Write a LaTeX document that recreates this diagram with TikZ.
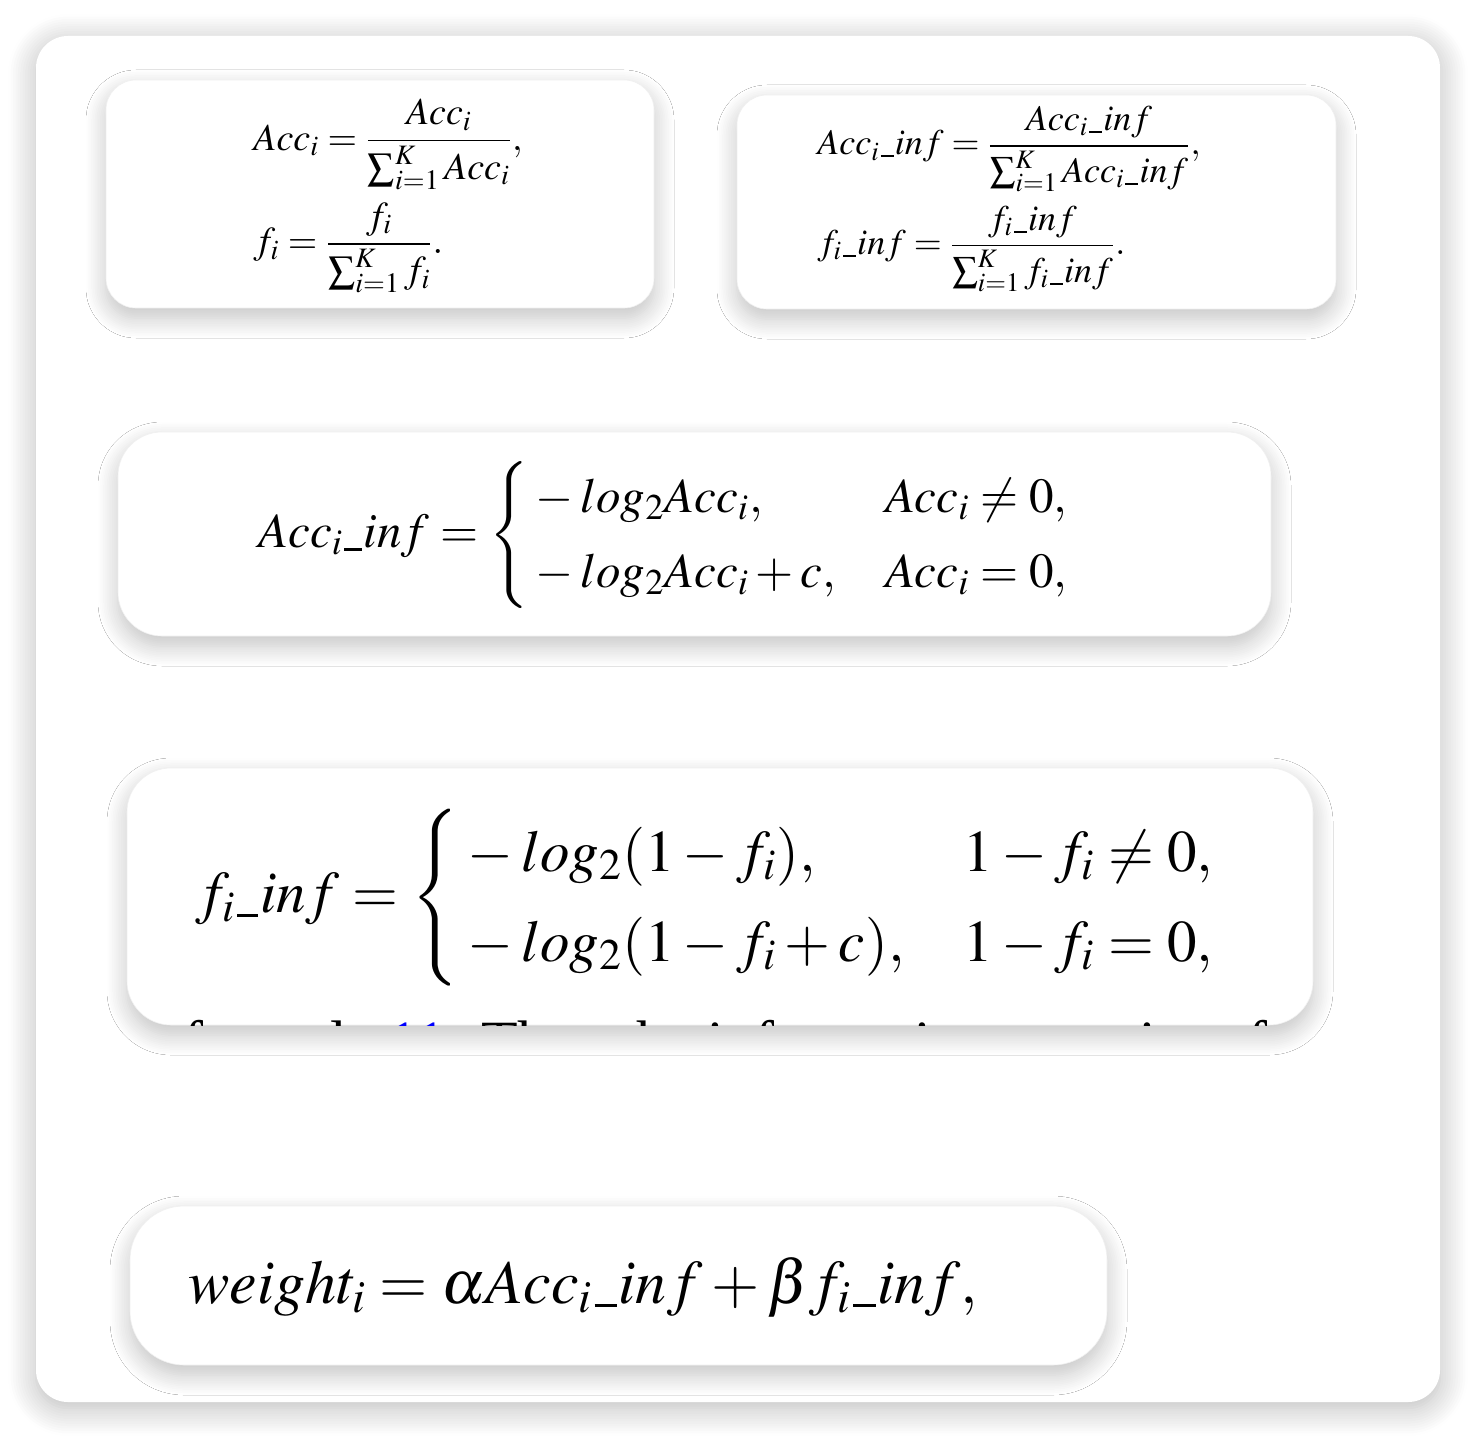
\documentclass[tikz,border=0pt]{standalone}
\usepackage{amsmath}
\usepackage{mathptmx}
\usepackage{fontspec}
\setmainfont{Liberation Serif}
\usetikzlibrary{shadows.blur}
\newcommand{\us}{\mathord{\kern0.03em\rule[-0.07em]{0.36em}{0.055em}\kern0.03em}}

\begin{document}
\begin{tikzpicture}[x=0.5pt,y=-0.5pt,
   frame/.style={fill=white, rounded corners=16pt,
      blur shadow={shadow xshift=0pt, shadow yshift=-3pt, shadow blur radius=14pt,
         shadow blur steps=12, shadow opacity=28}},
   card/.style={fill=white, draw=black!6, line width=0.3pt,
      blur shadow={shadow xshift=0pt, shadow yshift=-5pt, shadow blur radius=10pt,
         shadow blur steps=12, shadow opacity=24}},
   eq/.style={inner sep=0pt, anchor=west}]
   \useasboundingbox (0,0) rectangle (1476,1438);
   \path[frame] (36,36) rectangle (1440,1402);
   \path[card, rounded corners=15pt] (106,80) rectangle (654,308);
   \path[card, rounded corners=15pt] (737,95) rectangle (1336,309);
   \path[card, rounded corners=22pt] (118,432) rectangle (1271,636);
   \path[card, rounded corners=22pt] (127,768) rectangle (1313,1025);
   \path[card, rounded corners=27pt] (130,1206) rectangle (1107,1365);

   \node[eq] (norm) at (253,196) {\fontsize{19}{23}\selectfont
      $\begin{aligned}
         &Acc_i = \frac{Acc_i}{\sum_{i=1}^{K} Acc_i},\\[2.5pt]
         &f_i = \frac{f_i}{\sum_{i=1}^{K} f_i}.
      \end{aligned}$};
   \node[eq] (norminf) at (817,199) {\fontsize{18}{22}\selectfont
      $\begin{aligned}
         &Acc_i\us inf = \frac{Acc_i\us inf}{\sum_{i=1}^{K} Acc_i\us inf},\\[3pt]
         &f_i\us inf = \frac{f_i\us inf}{\sum_{i=1}^{K} f_i\us inf}.
      \end{aligned}$};
   \node[eq] (accinf) at (258,535) {\fontsize{24.5}{31.2}\selectfont
      $Acc_i\us inf = \begin{cases}
         {}-log_2Acc_i, & Acc_i \neq 0,\\
         {}-log_2Acc_i + c, & Acc_i = 0,
      \end{cases}$};
   \node[eq] (finf) at (195,898) {\fontsize{29.5}{37.5}\selectfont
      $f_i\us inf = \begin{cases}
         {}-log_2(1-f_i), & 1-f_i \neq 0,\\
         {}-log_2(1-f_i+c), & 1-f_i = 0,
      \end{cases}$};
   \begin{scope}
      \clip[rounded corners=22pt] (127,768) rectangle (1313,1025);
      \node[inner sep=0pt, anchor=base west] (tail) at (183,1062) {\fontsize{30}{36}\selectfont
         formula \textcolor{blue}{11}. Then the information quantity of};
   \end{scope}
   \node[eq] (weight) at (188,1287) {\fontsize{31}{37}\selectfont
      $weight_i = \alpha Acc_i\us inf + \beta f_i\us inf,$};
\end{tikzpicture}
\end{document}
